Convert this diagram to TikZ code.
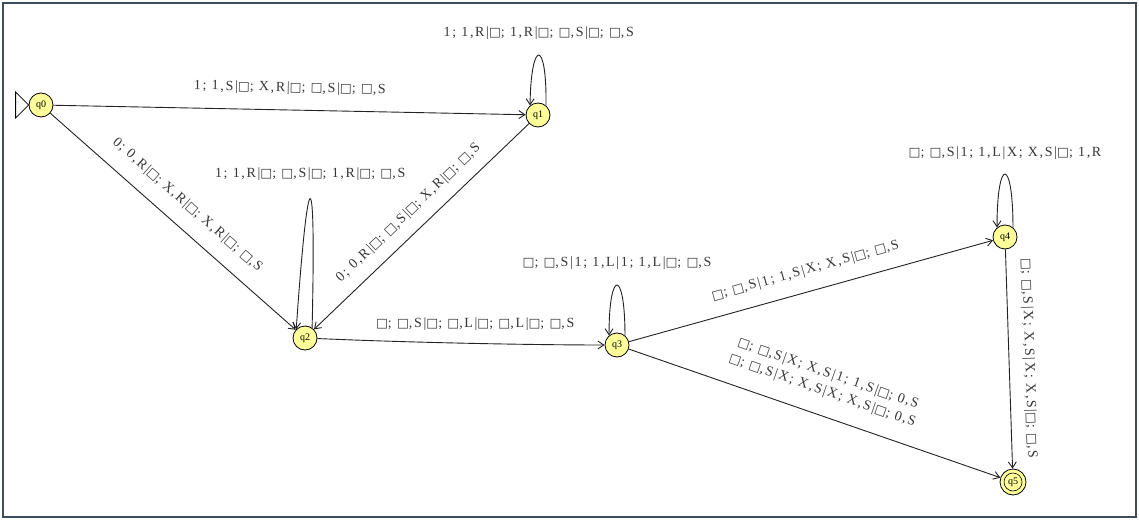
\documentclass[tikz,border=0pt]{standalone}
\usepackage{fontspec}
\setmainfont{Liberation Serif}
\newfontfamily\labfont[LetterSpace=12]{Liberation Serif}
\newfontfamily\symfont[Scale=0.9]{DejaVu Sans}
\usetikzlibrary{arrows.meta}
\definecolor{stfill}{RGB}{255,255,153}
\definecolor{framec}{RGB}{65,75,95}
\definecolor{edgec}{RGB}{35,35,35}
\newcommand{\B}{{\symfont □}}
\begin{document}
\begin{tikzpicture}[x=1pt,y=-1pt,
  state/.style={circle,draw=black,fill=stfill,minimum size=24pt,inner sep=0pt,
    font=\fontsize{10}{10}\selectfont,line width=0.8pt},
  edge/.style={draw=edgec,line width=0.9pt,-{Straight Barb[length=6pt,width=8pt]}},
  lab/.style={font=\labfont\fontsize{14}{18}\selectfont,inner sep=1pt,text=black!78},
]
\useasboundingbox (0,0) rectangle (1139,521);
\fill[white] (0,0) rectangle (1139,521);
\draw[framec,line width=1.6pt] (3,3) rectangle (1136,517);

\node[state] (q0) at (41,105) {q0};
\node[state] (q1) at (538,115) {q1};
\node[state] (q2) at (305,338) {q2};
\node[state] (q3) at (617,345) {q3};
\node[state] (q4) at (1005,237) {q4};
\node[state,minimum size=26pt] (q5) at (1013,482) {q5};
\draw[line width=0.6pt] (q5.center) circle[radius=9pt];

% initial marker
\draw[line width=0.8pt,fill=white] (q0.west) -- ++(-13,-13) -- ++(0,26) -- cycle;

% transitions
\draw[edge] (q0) -- node[lab,sloped,above=14pt]{1; 1,S|\B; X,R|\B; \B,S|\B; \B,S} (q1);
\draw[edge] (q1.50) .. controls +(1,-67) and +(1,-67) .. node[lab,above=14pt]{1; 1,R|\B; 1,R|\B; \B,S|\B; \B,S} (q1.130);
\draw[edge] (q0) -- node[lab,sloped,above=14pt]{0; 0,R|\B; X,R|\B; X,R|\B; \B,S} (q2);
\draw[edge] (q2.55) .. controls +(4,-173) and +(12,-173) .. node[lab,above=17pt]{1; 1,R|\B; \B,S|\B; 1,R|\B; \B,S} (q2.135);
\draw[edge] (q1) -- node[lab,sloped,above=11pt]{0; 0,R|\B; \B,S|\B; X,R|\B; \B,S} (q2);
\draw[edge] (q2) .. controls (420,343) and (540,345) .. node[lab,above=11pt]{\B; \B,S|\B; \B,L|\B; \B,L|\B; \B,S} (q3);
\draw[edge] (q3.50) .. controls +(0,-67) and +(0,-67) .. node[lab,above=14pt]{\B; \B,S|1; 1,L|1; 1,L|\B; \B,S} (q3.130);
\draw[edge] (q3) -- node[lab,sloped,above=13pt]{\B; \B,S|1; 1,S|X; X,S|\B; \B,S} (q4);
\draw[edge] (q4.50) .. controls +(0,-71) and +(0,-71) .. node[lab,above=13pt]{\B; \B,S|1; 1,L|X; X,S|\B; 1,R} (q4.130);
\draw[edge] (q3) -- node[lab,sloped,above=16pt,align=center]{\B; \B,S|X; X,S|1; 1,S|\B; 0,S\\\B; \B,S|X; X,S|X; X,S|\B; 0,S} (q5);
\draw[edge] (q4) -- node[lab,sloped,above=12pt]{\B; \B,S|X; X,S|X; X,S|\B; \B,S} (q5);
\end{tikzpicture}
\end{document}
